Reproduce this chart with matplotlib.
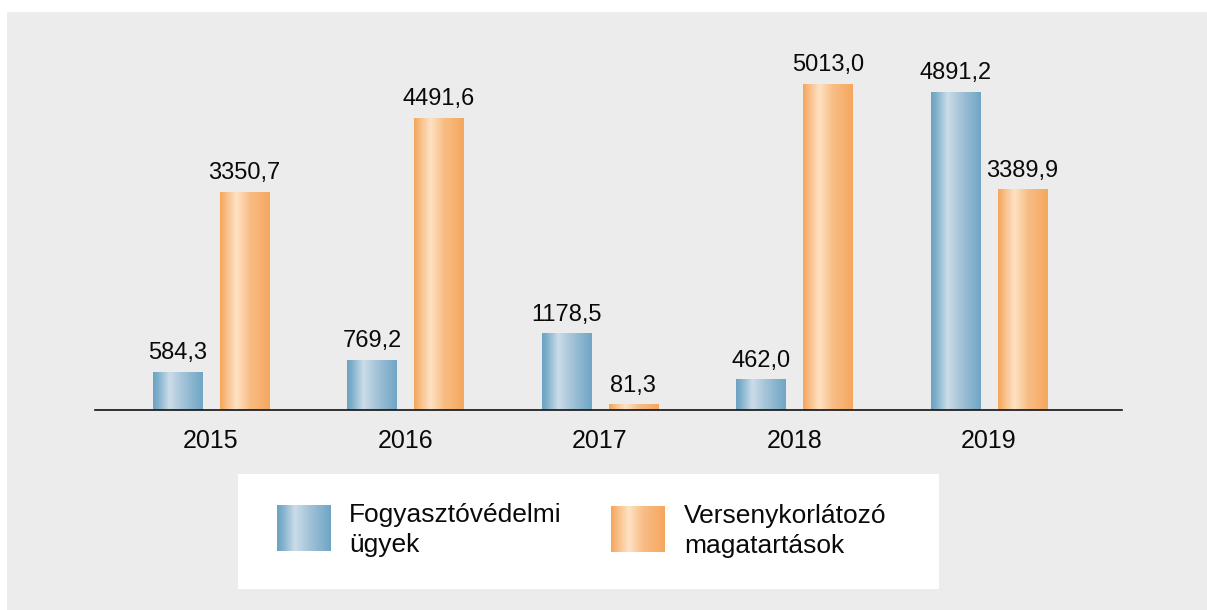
import numpy as np
import matplotlib
matplotlib.use("Agg")
from matplotlib import pyplot as plt
from matplotlib.colors import LinearSegmentedColormap
from matplotlib.patches import Rectangle

years = ["2015", "2016", "2017", "2018", "2019"]
fogyasztovedelmi = [584.3, 769.2, 1178.5, 462.0, 4891.2]
versenykorlatozo = [3350.7, 4491.6, 81.3, 5013.0, 3389.9]
legend_labels = ["Fogyasztóvédelmi\nügyek", "Versenykorlátozó\nmagatartások"]

plt.rcParams['font.family'] = ['Liberation Sans', 'DejaVu Sans']

BG = "#ececec"
blue_cmap = LinearSegmentedColormap.from_list(
    "b", [(0, "#6ba2c2"), (0.1, "#7fb0cc"), (0.33, "#cbdce8"), (0.6, "#a3c3d8"), (1, "#6fa5c4")])
orange_cmap = LinearSegmentedColormap.from_list(
    "o", [(0, "#f5a55a"), (0.1, "#f8b97e"), (0.33, "#fee2c4"), (0.6, "#f8bd85"), (1, "#f5a75e")])
grad = np.linspace(0, 1, 256).reshape(1, -1)


def fmt(v):
    return f"{v:.1f}".replace(".", ",")


def gradient_bars(ax, xs, vals, width, cmap):
    for x, v in zip(xs, vals):
        ax.imshow(grad, cmap=cmap, aspect='auto', interpolation='bicubic',
                  extent=(x - width / 2, x + width / 2, 0, v), zorder=2)
        ax.text(x, v + 120, fmt(v), ha='center', va='bottom', fontsize=17, color='#0a0a0a')


fig = plt.figure(figsize=(12.07, 6.10), dpi=100)
fig.patch.set_facecolor("white")
W, H = 1207, 610
fig.patches.append(Rectangle((7 / W, -0.1), 1.2, 1.1 - 12 / H, transform=fig.transFigure,
                             facecolor=BG, edgecolor='none', zorder=0))
fig.patches.append(Rectangle((238 / W, 1 - 589 / H), 701 / W, 115 / H, transform=fig.transFigure,
                             facecolor="white", edgecolor='none', zorder=1))

ax = fig.add_axes([95 / W, 1 - 410 / H, 1027 / W, 390 / H])
ax.set_zorder(5)
ax.set_facecolor('none')
x = np.arange(len(years))
bw = 0.252
off = 0.172
gradient_bars(ax, x - off, fogyasztovedelmi, bw, blue_cmap)
gradient_bars(ax, x + off, versenykorlatozo, bw, orange_cmap)

ax.set_xlim(-0.596, 4.684)
ax.set_ylim(0, 6000)
for s in ["top", "right", "left"]:
    ax.spines[s].set_visible(False)
ax.spines["bottom"].set_color("#111111")
ax.spines["bottom"].set_linewidth(1.2)
ax.spines["bottom"].set_zorder(3)
ax.set_yticks([])
ax.set_xticks(x)
ax.set_xticklabels(years, fontsize=18, color='#0a0a0a')
ax.tick_params(axis='x', length=0, pad=14)

# legend
lax = fig.add_axes([0, 0, 1, 1])
lax.set_zorder(6)
lax.axis('off')
for (x0, x1, y0, y1), tx, cmap, lab in [((277, 331, 505, 551), 349, blue_cmap, legend_labels[0]),
                                        ((611, 665, 506, 552), 684, orange_cmap, legend_labels[1])]:
    lax.imshow(grad, cmap=cmap, aspect='auto', interpolation='bicubic',
               extent=(x0, x1, y1, y0), zorder=2)
    lax.text(tx, (y0 + y1) / 2 + 2, lab, ha='left', va='center', fontsize=19,
             color='#0a0a0a', linespacing=1.3)
lax.set_xlim(0, W)
lax.set_ylim(H, 0)

fig.savefig("out.png", dpi=100, facecolor=fig.get_facecolor())
